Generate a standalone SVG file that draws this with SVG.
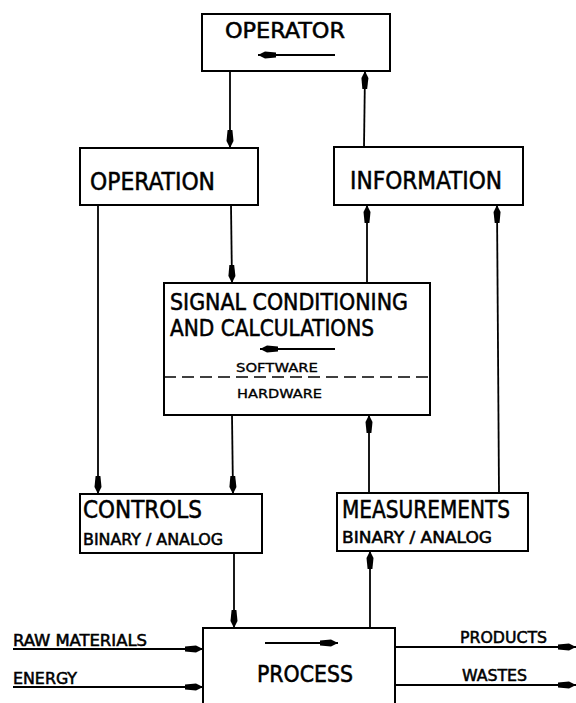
<svg xmlns="http://www.w3.org/2000/svg" width="576" height="703" viewBox="0 0 576 703">
<style>
.box{fill:#fff;stroke:#000;stroke-width:2}
.ln{fill:none;stroke:#000;stroke-width:1.8}
text{font-family:"DejaVu Sans Condensed","Liberation Sans",sans-serif;fill:#000;stroke:#000;stroke-width:0.5}
.big{font-size:24px}
.sig{font-size:23px}
.op{font-size:21px}
.mid{font-size:16px}
.sm{font-size:12.5px;stroke-width:0.3}
</style>
<defs>
<marker id="ah" markerUnits="userSpaceOnUse" markerWidth="20" markerHeight="10" refX="18" refY="5" orient="auto">
<path d="M0,2.6 L11,1.5 L18,5 L11,8.5 L0,7.4 Z" fill="#000"/>
</marker>
</defs>
<g id="connectors">
<line class="ln" x1="230" y1="71" x2="230" y2="148" marker-end="url(#ah)"/>
<line class="ln" x1="364" y1="147" x2="365" y2="71" marker-end="url(#ah)"/>
<line class="ln" x1="98" y1="205" x2="98" y2="494" marker-end="url(#ah)"/>
<line class="ln" x1="231" y1="205" x2="232" y2="283" marker-end="url(#ah)"/>
<line class="ln" x1="367" y1="283" x2="367" y2="205" marker-end="url(#ah)"/>
<line class="ln" x1="499" y1="493" x2="497" y2="205" marker-end="url(#ah)"/>
<line class="ln" x1="232" y1="415" x2="233" y2="494" marker-end="url(#ah)"/>
<line class="ln" x1="369" y1="493" x2="369" y2="415" marker-end="url(#ah)"/>
<line class="ln" x1="234" y1="553" x2="234" y2="628" marker-end="url(#ah)"/>
<line class="ln" x1="370" y1="628" x2="370" y2="551" marker-end="url(#ah)"/>
<line class="ln" x1="13" y1="649" x2="203" y2="649" marker-end="url(#ah)"/>
<line class="ln" x1="13" y1="687" x2="203" y2="687" marker-end="url(#ah)"/>
<line class="ln" x1="395" y1="647" x2="576" y2="647" marker-end="url(#ah)"/>
<line class="ln" x1="395" y1="685" x2="576" y2="685" marker-end="url(#ah)"/>
</g>
<g id="operator">
<rect class="box" x="202" y="14" width="188" height="57"/>
<text class="op" x="225" y="38" textLength="120" lengthAdjust="spacingAndGlyphs">OPERATOR</text>
<line class="ln" x1="335" y1="55" x2="258" y2="55" marker-end="url(#ah)"/>
</g>
<g id="operation">
<rect class="box" x="80" y="148" width="178" height="57"/>
<text class="big" x="90" y="190" textLength="125" lengthAdjust="spacingAndGlyphs">OPERATION</text>
</g>
<g id="information">
<rect class="box" x="334" y="147" width="189" height="58"/>
<text class="big" x="350" y="189" textLength="152" lengthAdjust="spacingAndGlyphs">INFORMATION</text>
</g>
<g id="signal">
<rect class="box" x="164" y="283" width="266" height="132"/>
<text class="sig" x="170" y="310" textLength="238" lengthAdjust="spacingAndGlyphs">SIGNAL  CONDITIONING</text>
<text class="sig" x="170" y="336" textLength="204" lengthAdjust="spacingAndGlyphs">AND  CALCULATIONS</text>
<line class="ln" x1="335" y1="349" x2="260" y2="349" marker-end="url(#ah)"/>
<text class="sm" x="236" y="372" textLength="82" lengthAdjust="spacingAndGlyphs">SOFTWARE</text>
<line x1="164" y1="377" x2="430" y2="377" stroke="#000" stroke-width="1.6" stroke-dasharray="12,6"/>
<text class="sm" x="237" y="398" textLength="85" lengthAdjust="spacingAndGlyphs">HARDWARE</text>
</g>
<g id="controls">
<rect class="box" x="80" y="494" width="182" height="59"/>
<text class="big" x="83" y="518" textLength="119" lengthAdjust="spacingAndGlyphs">CONTROLS</text>
<text class="mid" x="83" y="545" textLength="140" lengthAdjust="spacingAndGlyphs">BINARY / ANALOG</text>
</g>
<g id="measurements">
<rect class="box" x="337" y="493" width="191" height="58"/>
<text class="big" x="342" y="518" textLength="168" lengthAdjust="spacingAndGlyphs">MEASUREMENTS</text>
<text class="mid" x="342" y="543" textLength="150" lengthAdjust="spacingAndGlyphs">BINARY / ANALOG</text>
</g>
<g id="process">
<rect class="box" x="203" y="628" width="192" height="90"/>
<line class="ln" x1="265" y1="643" x2="338" y2="643" marker-end="url(#ah)"/>
<text class="sig" x="257" y="682" textLength="96" lengthAdjust="spacingAndGlyphs">PROCESS</text>
</g>
<g id="labels">
<text class="mid" x="13" y="646" textLength="134" lengthAdjust="spacingAndGlyphs">RAW MATERIALS</text>
<text class="mid" x="13" y="684" textLength="64" lengthAdjust="spacingAndGlyphs">ENERGY</text>
<text class="mid" x="460" y="643" textLength="87" lengthAdjust="spacingAndGlyphs">PRODUCTS</text>
<text class="mid" x="462" y="681" textLength="65" lengthAdjust="spacingAndGlyphs">WASTES</text>
</g>
</svg>
